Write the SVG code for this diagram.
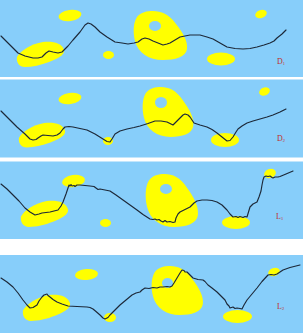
<svg xmlns="http://www.w3.org/2000/svg" width="304" height="333" viewBox="0 0 304 333">
<defs>
<style>
.bg{fill:#87CEFA}
.y{fill:#FFFF00}
.hole{fill:#87CEFA}
.c{fill:none;stroke:#1c2838;stroke-width:1.15;stroke-linejoin:round;stroke-linecap:round}
.lab{font-family:"Liberation Serif",serif;font-size:8px;fill:#c0302a}
.sub{font-size:4.5px}
</style>
<path id="egg" d="M20,0 C28,0 36,3 43,13 C50,22 55,30 54,38 C53,46 42,49 30,49 C16,49 5,42 2,30 C0,22 0,12 4,6 C8,1 14,0 20,0 Z"/>
<path id="lb" d="M0,15 C3,9 14,2 26,0 C36,-1 45,1 47,8 C48,13 40,17 32,20 C24,23 15,25 8,25 C2,25 -1,20 0,15 Z"/>
</defs>
<rect width="304" height="333" fill="#ffffff"/>
<g id="panel-D1">
<rect class="bg" x="0" y="0" width="303" height="77"/>
<ellipse class="y" cx="70" cy="15.5" rx="11.5" ry="5.5" transform="rotate(-8 70 15.5)"/>
<ellipse class="y" cx="261" cy="14" rx="6" ry="4" transform="rotate(-20 261 14)"/>
<use href="#egg" class="y" transform="translate(133 11)"/>
<ellipse class="hole" cx="155" cy="26" rx="6" ry="5"/>
<use href="#lb" class="y" transform="translate(17 42)"/>
<ellipse class="y" cx="108.5" cy="55" rx="5.5" ry="4"/>
<ellipse class="y" cx="221" cy="59" rx="14" ry="6.5"/>
<text class="lab" x="277" y="64">D<tspan class="sub" dy="1">1</tspan></text>
</g>
<g id="panel-D2">
<rect class="bg" x="0" y="79.5" width="303" height="78"/>
<ellipse class="y" cx="70" cy="98.5" rx="11.5" ry="5.5" transform="rotate(-8 70 98.5)"/>
<ellipse class="y" cx="264.5" cy="91.5" rx="5.5" ry="4" transform="rotate(-20 264.5 91.5)"/>
<use href="#egg" class="y" transform="translate(142 87) scale(0.95 1.02)"/>
<ellipse class="hole" cx="161" cy="102.5" rx="6" ry="5.5"/>
<use href="#lb" class="y" transform="translate(19 123) scale(0.98 0.98)"/>
<ellipse class="y" cx="108" cy="141" rx="5" ry="4"/>
<ellipse class="y" cx="225" cy="140" rx="14" ry="7"/>
<text class="lab" x="277" y="141">D<tspan class="sub" dy="1">2</tspan></text>
</g>
<g id="panel-L1">
<rect class="bg" x="0" y="161.5" width="303" height="77.5"/>
<ellipse class="y" cx="73.5" cy="181" rx="11.5" ry="6" transform="rotate(-8 73.5 181)"/>
<ellipse class="y" cx="270" cy="173.5" rx="6" ry="4.5" transform="rotate(-20 270 173.5)"/>
<use href="#egg" class="y" transform="translate(145 174) scale(0.98 1.08)"/>
<ellipse class="hole" cx="166" cy="189" rx="6" ry="5"/>
<use href="#lb" class="y" transform="translate(21 201) scale(1 1.04)"/>
<ellipse class="y" cx="105.5" cy="223" rx="5.5" ry="4"/>
<ellipse class="y" cx="236" cy="222.5" rx="14" ry="6.5"/>
<text class="lab" x="276" y="219">L<tspan class="sub" dy="1">1</tspan></text>
</g>
<g id="panel-L2">
<rect class="bg" x="0" y="255" width="303" height="78"/>
<ellipse class="y" cx="86.5" cy="274.5" rx="11.5" ry="5.5" transform="rotate(-5 86.5 274.5)"/>
<ellipse class="y" cx="274" cy="272" rx="6" ry="4" transform="rotate(-20 274 272)"/>
<use href="#egg" class="y" transform="translate(151 266) scale(0.96 1)"/>
<ellipse class="hole" cx="167.5" cy="283" rx="5.5" ry="5"/>
<use href="#lb" class="y" transform="translate(23 295) scale(1 1.04)"/>
<ellipse class="y" cx="110" cy="317.5" rx="6" ry="4.5"/>
<ellipse class="y" cx="237.5" cy="316.5" rx="14.5" ry="6.5"/>
<text class="lab" x="277" y="309">L<tspan class="sub" dy="1">2</tspan></text>
</g>
<g id="connectors">
<polyline class="c" points="1,36 10,45 18,53 25,56 33,58 38,58 42,57 46,53 49,51 53,52 58,53 62,52 68,46 73,40 80,32 85,25 88,23 91,24 95,27 100,32 107,37 115,42 122,43 128,44 134,43 138,42 142,39 145,38 149,39 153,41 158,43 163,45 167,44 170,43 175,40 180,37 185,36 190,35 200,35 207,37 213,39 220,43 227,47 235,48.5 243,49 250,48.5 257,47 264,45 270,43 274,41 277,38 282,34 286,30"/>
<polyline class="c" points="1,111 9,119 17,127 25,134 30,139 33,140 36,139.5 38,138 41,136 43,135 48,135.5 53,136 57,135 60,133 63,129 65,127 69,126.5 73,127 80,128.5 87,130 95,134 103,139 107,141.5 110,142 112,139 115,134 120,131 127,129 134,127.5 140,126 148,123.5 155,121 161,121 167,122 170,123.5 173,125 176,122 180,118 183,115 185,114 188,115 190,117 192,120 194,123 200,125 207,127 212,129.5 217,133 222,137 227,141 230,140.5 233,137 236,132 238,129 242,126 247,123 253,121 260,119 267,117 273,115 280,112 286,109"/>
<polyline class="c" points="1,184 7,189 13,195 19,201 25,208 30,212 35,215 39,214 42,213 46,212.5 50,212 54,211 58,210 61,206 63,202 66,194 69,185 70,186 71,184.5 72,186 74,185.5 75,186.5 77,185 80,185 85,185.5 90,186 94,186.5 96,188 98,189.5 100,189 105,190 110,191 116,195 123,200 130,205 137,210 143,214.5 150,219 153,219.5 155,219 157,220 159,219.5 161,221 163,222 165,220.5 167,222 170,221.5 173,222.5 175,222 176,218 178,214 180,212 185,209.5 190,207 194,203 197,201 202,200 207,200 212,200.5 217,202 222,205 227,210 230,214 233,217 236,216.5 238,217.5 240,216.5 243,217.5 245,216.5 247,217 248.5,212 250,207 253,204 257,202 259,197 261,191 262,185 263,180 264,177 266,176 268,176.5 270,176 272,177.5 273,178 275,177 278,177 280,176.5 286,174 293,171"/>
<polyline class="c" points="1,278 7,282 13,287 18,293 23,300 27,305 30,308 33,307.5 37,305 39,301 42,297 44,295 47,294 48,295.5 50,297 53,299.5 57,302 62,304 68,306 77,306.5 87,307 90,307.5 93,309 96,311.5 100,315 103,318 105,319 108,317.5 110,315 115,310 120,305 126,300 132,295 136,293 140,292 142,290 145,288 149,288.5 153,287.5 157,288 160,287 163,287 167,286.5 170,287 172,286 174,283 177,278 180,273 182,270 184,270.5 185,272 187,272 189,274 191,276 193,278 198,279.5 203,280 205,281.5 208,285 212,288 217,292 221,296 225,300 227,304 229,306 230,308 233,307 235,308.5 237,308 240,308.5 242,309 244,305 247,300 252,294 257,288 262,281.5 268,275 271,274.5 274,275 277,274 280,272 283,270 290,267.5 300,265"/>
</g>
</svg>
